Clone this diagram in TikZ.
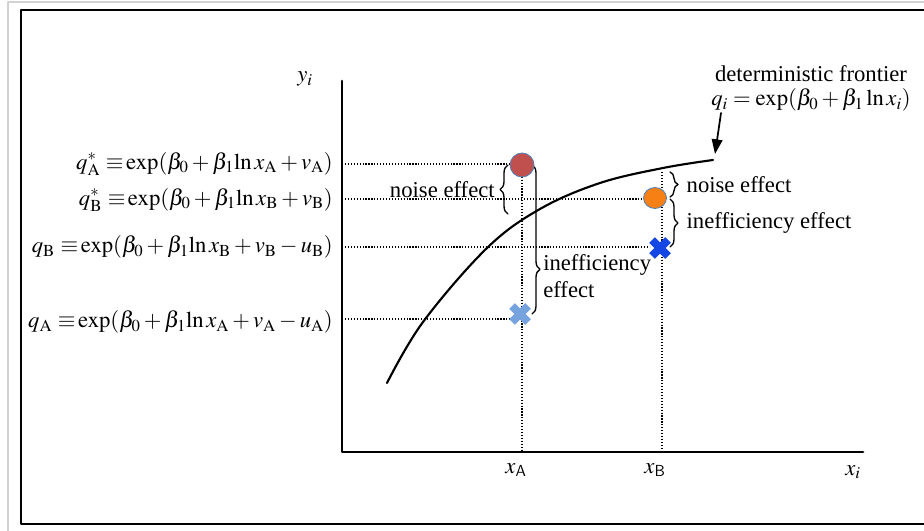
\documentclass[tikz,border=0pt]{standalone}
\usepackage{mathptmx}
\usepackage{fontspec}
\setmainfont{Liberation Serif}
\usetikzlibrary{calc,decorations.pathreplacing,arrows.meta}

\definecolor{dotred}{RGB}{192,80,77}
\definecolor{dotorange}{RGB}{246,128,20}
\definecolor{dotedge}{RGB}{79,129,189}
\definecolor{crossblue}{RGB}{20,70,230}
\definecolor{crosslight}{RGB}{118,163,222}

\begin{document}
\begin{tikzpicture}[x=0.75pt, y=-0.75pt, line cap=round, line join=round,
  every node/.style={font=\fontsize{17}{20}\selectfont, inner sep=0pt},
  guide/.style={line width=1.1pt, dash pattern=on 0.9pt off 1.3pt, line cap=butt},
  effbrace/.style={decorate, decoration={brace, amplitude=6pt, #1}, line width=1pt},
  effbrace/.default={aspect=0.5},
  xcross/.style={line width=6pt, line cap=butt, draw=#1}]
  % --- page and frame ---
  \useasboundingbox (0,0) rectangle (924,531);
  \draw[gray!35, line width=0.8pt] (8,531) -- (8,2) -- (924,2);
  \draw[line width=1.5pt] (924,10) -- (21,10) -- (21,524) -- (924,524);

  % --- points (pixels of the figure, y down) ---
  \coordinate (O) at (342,452);
  \coordinate (As) at (522,165);   % q*_A
  \coordinate (Bs) at (655,198);   % q*_B
  \coordinate (Bq) at (660,248);   % q_B
  \coordinate (Aq) at (520,314);   % q_A
  \coordinate (xA) at (522,452);
  \coordinate (xB) at (662,452);
  \coordinate (fB) at (662,172);   % frontier above x_B

  % --- dotted guides ---
  \draw[guide] (342,164) -- (512,164);
  \draw[guide] (342,199) -- (645,199);
  \draw[guide] (342,247) -- (650,247);
  \draw[guide] (342,319) -- (510,319);
  \draw[guide] (As) -- (xA);
  \draw[guide] (fB) -- (xB);

  % --- axes ---
  \draw[line width=2pt] (342,81) -- (O) -- (863,452);

  % --- deterministic frontier ---
  \draw[line width=1.6pt] plot[smooth, tension=0.6] coordinates
    {(387,383) (423,322) (487,248) (540,209) (600,183) (663,168) (713,160)};
  \draw[line width=1.3pt, -{Triangle[length=11pt,width=8pt]}] (721,113) -- (715,154);
  \node at (811,74) {deterministic frontier};
  \node at (811,100) {$q_i = \exp(\beta_0 + \beta_1\ln x_i)$};

  % --- braces ---
  \draw[effbrace] (508,214) -- (508,165)
    node[midway, left=9.5pt] {noise effect};
  \draw[effbrace={aspect=0.7}] (532,165) -- (532,314);
  \node[anchor=west, align=left] at (543,276) {inefficiency\\effect};
  \draw[effbrace] (670,172) -- (670,197)
    node[midway, right=12pt] {noise effect};
  \draw[effbrace] (670,199) -- (670,247)
    node[midway, right=12pt] {inefficiency effect};

  % --- observations ---
  \fill[dotred, draw=dotedge, line width=0.6pt] (As) circle[radius=12];
  \fill[dotorange, draw=dotedge, line width=0.6pt] (Bs) ellipse[x radius=11.5, y radius=10.5];
  \draw[xcross=crossblue] ($(Bq)+(-8,-8)$) -- ($(Bq)+(8,8)$)
    ($(Bq)+(-8,8)$) -- ($(Bq)+(8,-8)$);
  \draw[xcross=crosslight] ($(Aq)+(-8,-8)$) -- ($(Aq)+(8,8)$)
    ($(Aq)+(-8,8)$) -- ($(Aq)+(8,-8)$);

  % --- labels ---
  \node[anchor=east] at (333,164) {$q^{*}_{\mathrm{A}}\ {\equiv}\exp(\beta_0 + \beta_1{\ln}\,x_{\mathrm{A}} + v_{\mathrm{A}})$};
  \node[anchor=east] at (333,200) {$q^{*}_{\mathrm{B}}\ {\equiv}\exp(\beta_0 + \beta_1{\ln}\,x_{\mathrm{B}} + v_{\mathrm{B}})$};
  \node[anchor=east] at (333,247) {$q_{\mathrm{B}}\ {\equiv}\exp(\beta_0 + \beta_1{\ln}\,x_{\mathrm{B}} + v_{\mathrm{B}} - u_{\mathrm{B}})$};
  \node[anchor=east] at (333,322) {$q_{\mathrm{A}}\ {\equiv}\exp(\beta_0 + \beta_1{\ln}\,x_{\mathrm{A}} + v_{\mathrm{A}} - u_{\mathrm{A}})$};
  \node at (305,79) {$y_i$};
  \node at (516,470) {$x_{\mathsf{A}}$};
  \node at (655,470) {$x_{\mathsf{B}}$};
  \node at (853,472) {$x_i$};
\end{tikzpicture}
\end{document}
